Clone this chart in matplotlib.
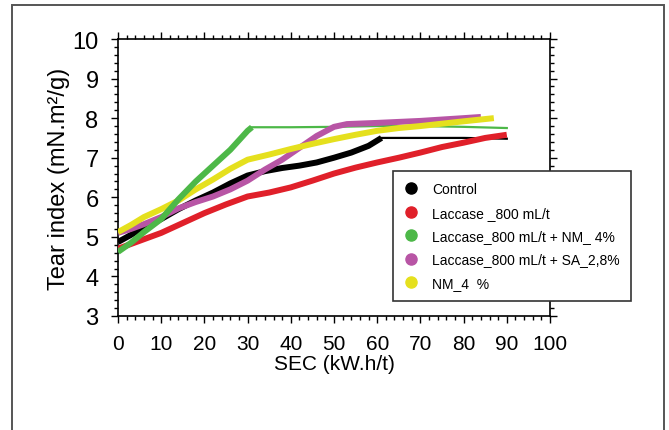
import numpy as np
import matplotlib.pyplot as plt
from matplotlib.patches import Rectangle
from matplotlib.ticker import MultipleLocator

plt.rcParams['font.family'] = ['Liberation Sans', 'DejaVu Sans']

# series: SEC (kW.h/t) vs tear index (mN.m2/g)
control_x = [0, 3, 6, 10, 14, 18, 22, 26, 30, 34, 38, 42, 46, 50, 54, 58, 61, 70, 80, 90]
control_y = [4.87, 5.05, 5.25, 5.45, 5.7, 5.92, 6.12, 6.35, 6.55, 6.66, 6.74, 6.8, 6.88, 7.0, 7.13, 7.3, 7.5, 7.5, 7.5, 7.48]

laccase_x = [0, 5, 10, 15, 20, 25, 30, 35, 40, 45, 50, 55, 60, 65, 70, 75, 80, 85, 90]
laccase_y = [4.7, 4.9, 5.1, 5.35, 5.6, 5.82, 6.02, 6.12, 6.25, 6.42, 6.6, 6.75, 6.88, 7.0, 7.13, 7.27, 7.38, 7.5, 7.58]

lac_nm_x = [0, 3, 6, 10, 14, 18, 22, 26, 30, 31, 40, 50, 60, 70, 80, 90]
lac_nm_y = [4.62, 4.85, 5.12, 5.45, 5.95, 6.4, 6.8, 7.2, 7.68, 7.77, 7.77, 7.78, 7.8, 7.8, 7.78, 7.75]

lac_sa_x = [0, 3, 6, 10, 14, 18, 22, 26, 30, 34, 38, 42, 46, 50, 53, 60, 70, 80, 84]
lac_sa_y = [5.1, 5.2, 5.32, 5.5, 5.72, 5.88, 6.02, 6.2, 6.42, 6.7, 6.95, 7.25, 7.55, 7.78, 7.85, 7.88, 7.93, 8.0, 8.03]

nm_x = [0, 3, 6, 10, 14, 18, 22, 26, 30, 35, 40, 45, 50, 55, 60, 65, 70, 75, 80, 87]
nm_y = [5.12, 5.3, 5.5, 5.7, 5.92, 6.2, 6.45, 6.72, 6.95, 7.08, 7.22, 7.35, 7.47, 7.58, 7.68, 7.75, 7.8, 7.86, 7.92, 8.0]

labels = ['Control', 'Laccase _800 mL/t', 'Laccase_800 mL/t + NM_ 4%',
          'Laccase_800 mL/t + SA_2,8%', 'NM_4  %']
colors = ['#000000', '#e0202a', '#4db848', '#b855a5', '#e5e01e']

fig = plt.figure(figsize=(6.69, 4.31), dpi=100)
ax = fig.add_axes([118/669, 1 - 317/431, (550 - 118)/669, (317 - 40)/431])

# outer page frame
fig.patches.append(Rectangle((12/669, -0.1), (664 - 12)/669, 1.1 - 6/431,
                             transform=fig.transFigure, fill=False,
                             edgecolor='#555555', lw=1.4))

series = [(control_x, control_y, 61), (laccase_x, laccase_y, 999),
          (lac_nm_x, lac_nm_y, 31), (lac_sa_x, lac_sa_y, 999), (nm_x, nm_y, 999)]
order = [1, 0, 3, 4, 2]
for i in order:
    xs, ys, cut = series[i]
    xs = np.array(xs, float)
    ys = np.array(ys, float)
    thick = xs <= cut
    ax.plot(xs[thick], ys[thick], color=colors[i], lw=4.3, solid_capstyle='butt', zorder=3)
    if (~thick).any():
        k = np.argmax(~thick) - 1
        ax.plot(xs[k:], ys[k:], color=colors[i], lw=1.6, zorder=2.5)

for c, lab in zip(colors, labels):
    ax.plot([], [], 'o', color=c, ms=8, label=lab)

ax.set_xlim(0, 100)
ax.set_ylim(3, 10)
ax.xaxis.set_major_locator(MultipleLocator(10))
ax.xaxis.set_minor_locator(MultipleLocator(2))
ax.yaxis.set_major_locator(MultipleLocator(1))
ax.yaxis.set_minor_locator(MultipleLocator(0.2))
ax.tick_params(which='both', direction='out', top=True, right=True, width=1)
ax.tick_params(which='major', length=5)
ax.tick_params(which='minor', length=3)
ax.tick_params(axis='x', labelsize=15, pad=8)
ax.tick_params(axis='y', labelsize=17, pad=9)
for s in ax.spines.values():
    s.set_linewidth(1.2)

ax.set_xlabel('SEC (kW.h/t)', fontsize=15, labelpad=1)
ax.set_ylabel('Tear index (mN.m²/g)', fontsize=17, labelpad=2)

leg = ax.legend(loc='upper left', bbox_to_anchor=(393/669, 1 - 172/431),
                bbox_transform=fig.transFigure, fontsize=10, frameon=True,
                fancybox=False, edgecolor='#333333', framealpha=1,
                handlelength=1.0, handletextpad=1.0, labelspacing=0.68,
                borderpad=0.8, borderaxespad=0)
leg.get_frame().set_linewidth(1.2)
leg.set_zorder(5)

fig.savefig('out.png', dpi=100)
